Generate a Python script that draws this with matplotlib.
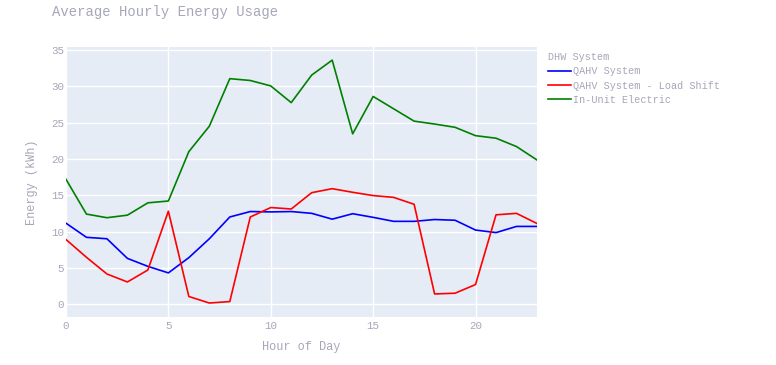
import numpy as np
import matplotlib.pyplot as plt

hours = list(range(24))
qahv = [11.15, 9.2, 9.0, 6.3, 5.2, 4.3, 6.4, 9.0, 12.0, 12.75, 12.7, 12.75,
        12.5, 11.7, 12.45, 11.95, 11.4, 11.4, 11.65, 11.55, 10.2, 9.85, 10.7, 10.7]
qahv_ls = [8.9, 6.45, 4.15, 3.05, 4.7, 12.8, 1.05, 0.15, 0.35, 12.0, 13.3, 13.1,
           15.35, 15.9, 15.4, 14.95, 14.7, 13.75, 1.4, 1.5, 2.7, 12.3, 12.5, 11.1]
in_unit = [17.2, 12.4, 11.9, 12.25, 13.95, 14.2, 21.0, 24.5, 31.05, 30.8, 30.05, 27.75,
           31.55, 33.6, 23.45, 28.6, 26.9, 25.2, 24.8, 24.35, 23.2, 22.85, 21.7, 19.85]
series_names = ["QAHV System", "QAHV System - Load Shift", "In-Unit Electric"]

txt = "#a5a7b9"
plt.rcParams['font.family'] = ['Liberation Mono', 'DejaVu Sans Mono']

fig = plt.figure(figsize=(7.76, 3.65), dpi=100)
ax = fig.add_axes([0.085, 0.132, 0.607, 0.740])
ax.set_facecolor("#E5ECF6")

for vals, col, name in zip([qahv, qahv_ls, in_unit], ["blue", "red", "green"], series_names):
    ax.plot(hours, vals, color=col, lw=1.2, label=name)

ax.set_xlim(0, 23)
ax.set_ylim(-1.75, 35.45)
ax.set_xticks([0, 5, 10, 15, 20])
ax.set_yticks([0, 5, 10, 15, 20, 25, 30, 35])
ax.grid(color="white", lw=1)
ax.set_axisbelow(True)
for s in ax.spines.values():
    s.set_visible(False)
ax.tick_params(length=0, colors=txt, labelsize=7.8)
ax.tick_params(axis="y", pad=1.5)
ax.tick_params(axis="x", pad=3)

ax.set_xlabel("Hour of Day", color=txt, fontsize=8.6, labelpad=7)
ax.set_ylabel("Energy (kWh)", color=txt, fontsize=8.6, labelpad=9)
fig.text(52 / 776, 1 - 12 / 365, "Average Hourly Energy Usage", color=txt,
         fontsize=10, va="center", ha="left")

leg = ax.legend(title="DHW System", loc="upper left", bbox_to_anchor=(1.015, 0.995),
                frameon=False, fontsize=7.25, title_fontsize=7.25, labelcolor=txt,
                handlelength=2.3, handletextpad=0.15, labelspacing=0.42,
                borderaxespad=0.0)
leg.get_title().set_color(txt)
leg._legend_box.align = "left"

fig.savefig("out.png", dpi=100)
